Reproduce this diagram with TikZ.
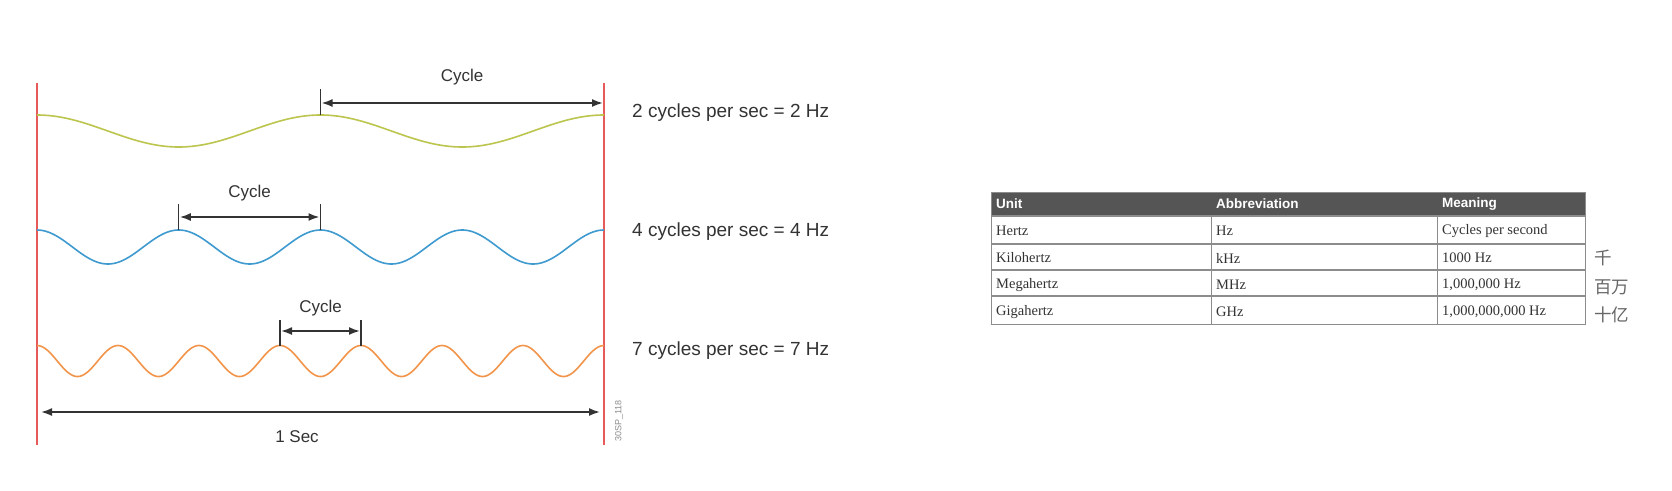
\documentclass[tikz,border=0pt]{standalone}
\usepackage{fontspec}
\setmainfont{Liberation Sans}
\newfontfamily\tabserif{Liberation Serif}
\newfontfamily\cjk{Noto Sans CJK SC}
\usetikzlibrary{arrows.meta}
\definecolor{redline}{HTML}{E65A5A}
\definecolor{wgreen}{HTML}{BCC64E}
\definecolor{wblue}{HTML}{3F9AD0}
\definecolor{worange}{HTML}{F2944A}
\definecolor{hdr}{HTML}{555555}
\definecolor{grid}{HTML}{8C8C8C}
\definecolor{txt}{HTML}{333333}
\tikzset{
  bound/.style={redline, line width=2pt},
  wave/.style={line width=1.6pt},
  dim/.style={{Latex[length=11pt,width=8pt]}-{Latex[length=11pt,width=8pt]}, line width=1.8pt, txt, shorten <=1pt, shorten >=1pt},
  tick/.style={line width=1.3pt, txt},
  lbl/.style={font=\fontsize{17}{20}\selectfont, text=txt, inner sep=0pt},
  hz/.style={font=\fontsize{19}{22}\selectfont, text=txt, anchor=west, inner sep=0pt},
  th/.style={font=\fontsize{13.5}{16}\selectfont\bfseries, text=white, anchor=west, inner sep=0pt},
  td/.style={font=\tabserif\fontsize{14.5}{17}\selectfont, text=txt, anchor=west, inner sep=0pt},
  cn/.style={font=\cjk\fontsize{17.5}{19}\selectfont, text=black!60, anchor=west, inner sep=0pt},
}
\begin{document}
\begin{tikzpicture}[x=1pt,y=-1pt]
\useasboundingbox[fill=white] (0,0) rectangle (1672,490);
% boundaries
\coordinate (L1) at (37,83); \coordinate (L2) at (37,445);
\coordinate (R1) at (604,83); \coordinate (R2) at (604,445);
\draw[bound] (L1) -- (L2);
\draw[bound] (R1) -- (R2);
% waves
\draw[wave, wgreen] plot[domain=37:604, samples=300] (\x, {131-16*cos(1.269841*(\x-37))});
\draw[wave, wblue] plot[domain=37:604, samples=300] (\x, {247-17*cos(2.539683*(\x-37))});
\draw[wave, worange] plot[domain=37:604, samples=400] (\x, {361-15.5*cos(4.444444*(\x-37))});
% green cycle
\coordinate (g1) at (320.5,115); \coordinate (g1t) at (320.5,89);
\coordinate (ga) at (320.5,103); \coordinate (gb) at (604,103);
\draw[tick] (g1) -- (g1t);
\draw[dim] (ga) -- (gb);
\node[lbl] (gc) at (462,77) {Cycle};
% blue cycle
\coordinate (b1) at (178.75,230); \coordinate (b1t) at (178.75,204);
\coordinate (b2) at (320.5,230); \coordinate (b2t) at (320.5,204);
\draw[tick] (b1) -- (b1t);
\draw[tick] (b2) -- (b2t);
\draw[dim] ([yshift=13pt]b1) -- ([yshift=13pt]b2);
\node[lbl] (bc) at (249.6,193) {Cycle};
% orange cycle
\coordinate (o1) at (280,346); \coordinate (o1t) at (280,320);
\coordinate (o2) at (361,346); \coordinate (o2t) at (361,320);
\draw[tick] (o1) -- (o1t);
\draw[tick] (o2) -- (o2t);
\draw[dim] ([yshift=15pt]o1) -- ([yshift=15pt]o2);
\node[lbl] (oc) at (320.5,308) {Cycle};
% 1 sec
\coordinate (s1) at (40,412); \coordinate (s2) at (601,412);
\draw[dim] (s1) -- (s2);
\node[lbl] (sec) at (297,437) {1 Sec};
% hz labels
\node[hz] (h2) at (632,113) {2 cycles per sec = 2 Hz};
\node[hz] (h4) at (632,232) {4 cycles per sec = 4 Hz};
\node[hz] (h7) at (632,351) {7 cycles per sec = 7 Hz};
\node[rotate=90, font=\fontsize{9}{10}\selectfont, text=black!45, inner sep=0pt] (code) at (619,421) {30SP\_118};
% table
\fill[hdr] (991,192) rectangle (1585,216);
\draw[grid, line width=0.8pt] (991,192) rectangle (1585,324);
\foreach \yy in {216,244,270,296} \draw[grid, line width=1.2pt] (991,\yy) -- (1585,\yy);
\foreach \xx in {1211,1437} \draw[grid, line width=1pt] (\xx,216) -- (\xx,324);
\node[th] (hu) at (996,204) {Unit};
\node[th] (ha) at (1216,204) {Abbreviation};
\node[th] (hm) at (1442,204) {Meaning};
\node[td] (r1a) at (996,231) {Hertz};
\node[td] (r1b) at (1216,231) {Hz};
\node[td] (r1c) at (1442,231) {Cycles per second};
\node[td] (r2a) at (996,258) {Kilohertz};
\node[td] (r2b) at (1216,258) {kHz};
\node[td] (r2c) at (1442,258) {1000 Hz};
\node[td] (r3a) at (996,285) {Megahertz};
\node[td] (r3b) at (1216,285) {MHz};
\node[td] (r3c) at (1442,285) {1,000,000 Hz};
\node[td] (r4a) at (996,312) {Gigahertz};
\node[td] (r4b) at (1216,312) {GHz};
\node[td] (r4c) at (1442,312) {1,000,000,000 Hz};
\node[cn] (c1) at (1594,258) {千};
\node[cn] (c2) at (1594,287) {百万};
\node[cn] (c3) at (1594,315) {十亿};
\end{tikzpicture}
\end{document}
